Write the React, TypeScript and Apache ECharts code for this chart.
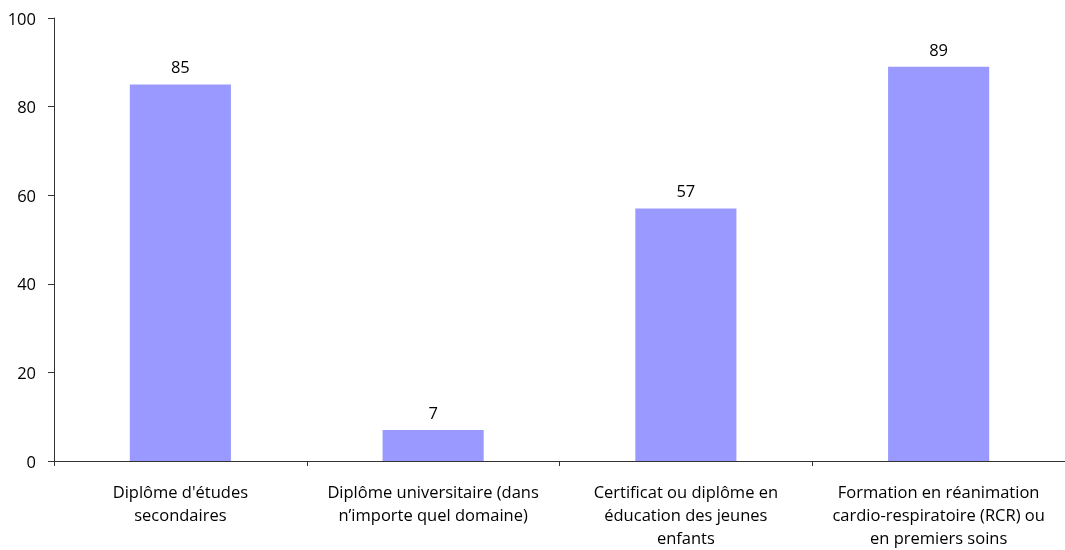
import React, { useEffect, useRef } from "react";
import * as echarts from "echarts";

const categories = [
  "Diplôme d'études\nsecondaires",
  "Diplôme universitaire (dans\nn’importe quel domaine)",
  "Certificat ou diplôme en\néducation des jeunes\nenfants",
  "Formation en réanimation\ncardio-respiratoire (RCR) ou\nen premiers soins",
];
const values = [85, 7, 57, 89];

export default function App() {
  const ref = useRef<HTMLDivElement>(null);
  useEffect(() => {
    const chart = echarts.init(ref.current!, null, { renderer: "svg" });
    const font = "'Open Sans', 'Noto Sans', sans-serif";
    chart.setOption({
      animation: false,
      grid: { left: 54, right: 0, top: 18, bottom: 89, containLabel: false },
      xAxis: {
        type: "category",
        data: categories,
        axisLine: { lineStyle: { color: "#333", width: 1 } },
        axisTick: { show: true, length: 5, lineStyle: { color: "#333" } },
        axisLabel: {
          color: "#000",
          fontFamily: font,
          fontSize: 16.5,
          lineHeight: 23,
          margin: 19,
          interval: 0,
        },
      },
      yAxis: {
        type: "value",
        min: 0,
        max: 100,
        interval: 20,
        axisLine: { show: true, lineStyle: { color: "#333", width: 1 } },
        axisTick: { show: true, length: 6, lineStyle: { color: "#333" } },
        splitLine: { show: false },
        axisLabel: { color: "#000", fontFamily: font, fontSize: 16.5, margin: 18 },
      },
      series: [
        {
          type: "bar",
          data: values,
          barWidth: "40%",
          itemStyle: { color: "#9999FF" },
          label: {
            show: true,
            position: "top",
            distance: 9,
            color: "#000",
            fontFamily: font,
            fontSize: 16.5,
          },
        },
      ],
    });
    return () => chart.dispose();
  }, []);
  return (
    <div
      ref={ref}
      style={{ position: "fixed", left: 0, top: 0, width: 1065, height: 550 }}
    />
  );
}
